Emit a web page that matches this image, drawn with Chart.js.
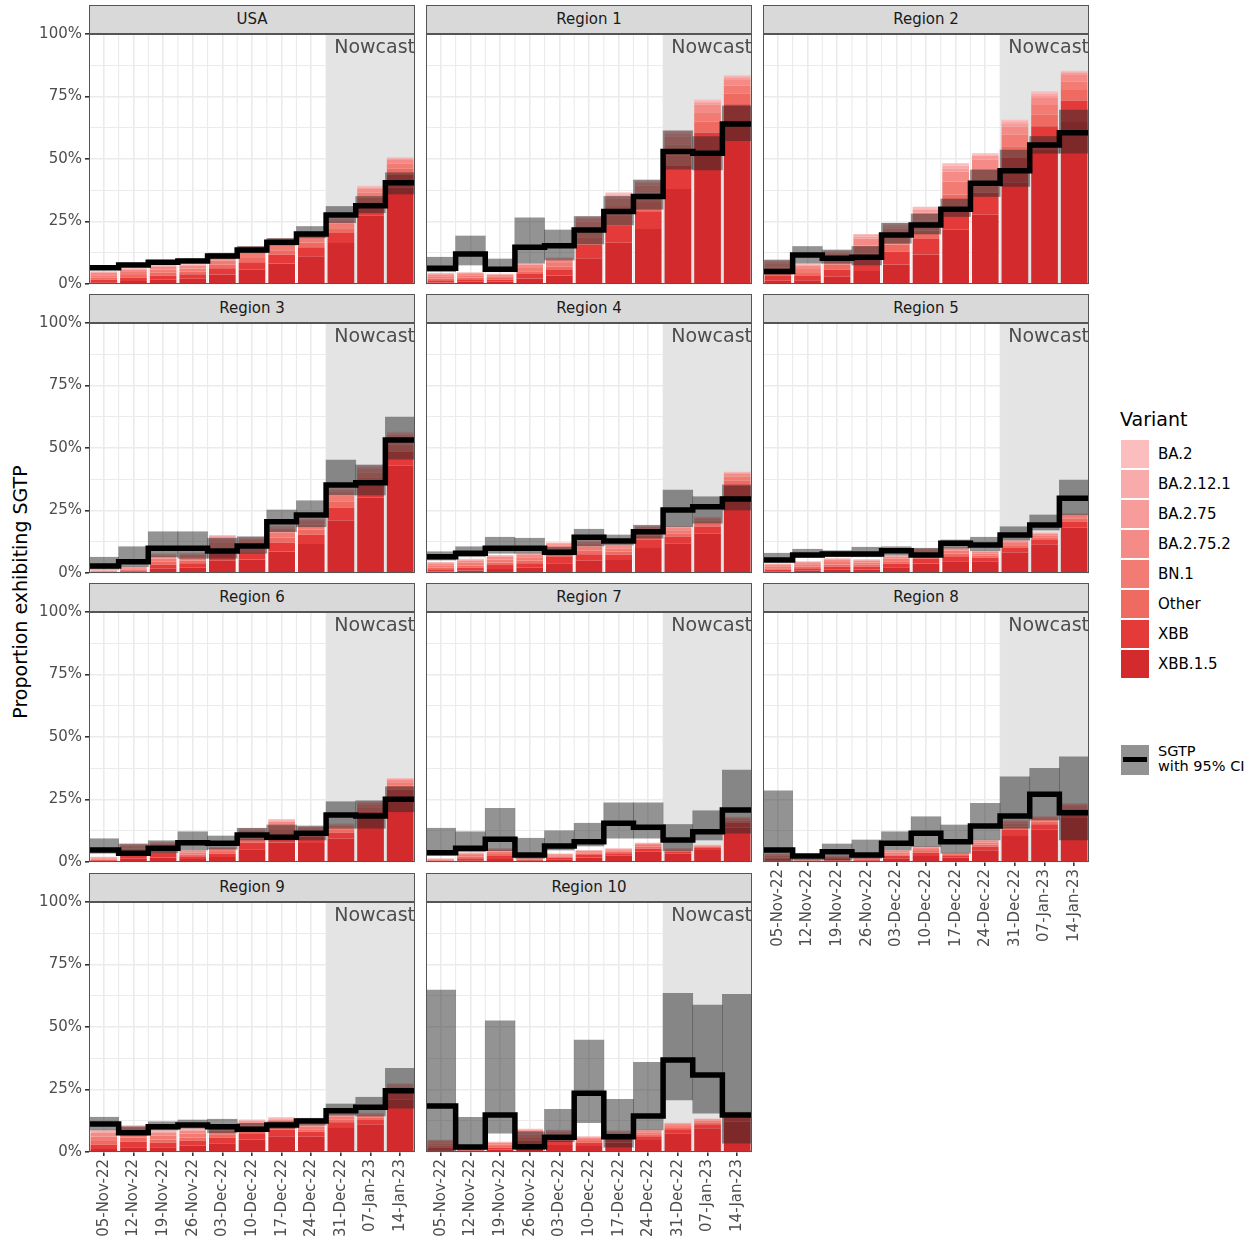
<!DOCTYPE html>
<html lang="en">
<head>
<meta charset="UTF-8" />
<title>Proportion exhibiting SGTP by region</title>
<script src="https://cdn.jsdelivr.net/npm/chart.js"></script>
<style>
  body { margin:0; background:#fff; font-family:"DejaVu Sans", sans-serif; }
  #page { position:relative; width:1257px; height:1243px; overflow:hidden; background:#fff; }
  #page canvas { position:absolute; }
  .strip { position:absolute; height:29px; background:#d9d9d9; border:1px solid #555; box-sizing:border-box;
           text-align:center; font-size:15px; line-height:27px; color:#1a1a1a; }
  .nowcast { position:absolute; font-size:19px; line-height:22px; color:#4d4d4d; text-align:right; white-space:nowrap; }
  .ytitle { position:absolute; width:400px; left:-180px; top:581px; text-align:center; font-size:19px; line-height:22px;
            color:#000; transform:rotate(-90deg); }
  .lg-title { position:absolute; left:1120px; top:408px; font-size:19px; line-height:22px; color:#000; }
  .lg-key { position:absolute; left:1121px; width:28px; height:28px; }
  .lg-text { position:absolute; left:1158px; font-size:15px; line-height:18px; color:#000; white-space:nowrap; }
</style>
</head>
<body>
<div id="page">
  <div class="ytitle">Proportion exhibiting SGTP</div>
</div>
<script>
// --------- data (percent) ---------
const weeks = ['05-Nov-22','12-Nov-22','19-Nov-22','26-Nov-22','03-Dec-22','10-Dec-22','17-Dec-22','24-Dec-22','31-Dec-22','07-Jan-23','14-Jan-23'];
const regions = ['USA','Region 1','Region 2','Region 3','Region 4','Region 5','Region 6','Region 7','Region 8','Region 9','Region 10'];
const variants = ['BA.2','BA.2.12.1','BA.2.75','BA.2.75.2','BN.1','Other','XBB','XBB.1.5'];
const variantColors = ['#fbbdbd','#f9abab','#f79c9a','#f58b86','#f27c74','#ef6b62','#e43a3a','#d32b2d'];
const yTickLabels = ['0%','25%','50%','75%','100%'];
const nowcastFrom = 8; // 31-Dec-22 onwards

// one row per region (USA, Region 1 .. Region 10), one value per week
const ba2 = [
  [0.2,0.2,0.2,0.2,0.2,0.3,0.4,0.2,0.3,0.4,0.3],
  [0.1,0.1,0.1,0.2,0.2,0.5,0.7,0.4,0.6,0.7,0.4],
  [0.3,0.2,0.3,0.4,0.5,0.6,1.0,0.5,0.7,0.8,0.4],
  [0.0,0.1,0.2,0.2,0.3,0.3,0.4,0.2,0.3,0.4,0.3],
  [0.1,0.2,0.1,0.2,0.2,0.3,0.2,0.2,0.2,0.2,0.2],
  [0.1,0.1,0.1,0.1,0.1,0.2,0.2,0.1,0.1,0.2,0.1],
  [0.1,0.2,0.2,0.1,0.1,0.3,0.3,0.1,0.2,0.2,0.2],
  [0.0,0.1,0.1,0.0,0.1,0.1,0.1,0.1,0.1,0.1,0.1],
  [0.1,0.0,0.1,0.0,0.1,0.1,0.1,0.1,0.2,0.2,0.1],
  [0.3,0.3,0.2,0.2,0.2,0.3,0.3,0.1,0.2,0.2,0.1],
  [0.1,0.0,0.1,0.2,0.2,0.1,0.2,0.1,0.1,0.1,0.1]
];
const ba2121 = [
  [0.2,0.2,0.2,0.2,0.4,0.3,0.4,0.2,0.3,0.4,0.3],
  [0.1,0.1,0.1,0.2,0.3,0.5,0.7,0.4,0.6,0.7,0.4],
  [0.3,0.2,0.4,0.6,0.7,0.6,1.0,0.5,0.7,0.8,0.4],
  [0.0,0.1,0.2,0.2,0.5,0.3,0.4,0.2,0.3,0.4,0.3],
  [0.1,0.2,0.2,0.2,0.4,0.3,0.2,0.2,0.2,0.2,0.2],
  [0.1,0.1,0.2,0.2,0.2,0.2,0.2,0.1,0.1,0.2,0.1],
  [0.1,0.2,0.2,0.1,0.2,0.3,0.3,0.1,0.2,0.2,0.2],
  [0.0,0.1,0.2,0.1,0.1,0.1,0.1,0.1,0.1,0.1,0.1],
  [0.1,0.0,0.1,0.1,0.1,0.1,0.1,0.1,0.2,0.2,0.1],
  [0.3,0.3,0.3,0.3,0.3,0.3,0.3,0.1,0.2,0.2,0.1],
  [0.1,0.0,0.1,0.3,0.3,0.1,0.2,0.1,0.1,0.1,0.1]
];
const ba275 = [
  [0.3,0.3,0.4,0.3,0.5,0.6,0.5,0.6,0.5,0.4,0.5],
  [0.3,0.2,0.2,0.3,0.4,1.1,1.1,1.2,1.2,0.7,0.8],
  [0.6,0.4,0.7,0.8,1.0,1.2,1.4,1.6,1.3,0.8,0.9],
  [0.1,0.1,0.4,0.3,0.6,0.6,0.6,0.7,0.7,0.4,0.6],
  [0.3,0.3,0.4,0.3,0.5,0.5,0.3,0.6,0.4,0.2,0.4],
  [0.2,0.2,0.3,0.2,0.3,0.4,0.3,0.3,0.3,0.2,0.2],
  [0.1,0.4,0.4,0.2,0.2,0.5,0.5,0.4,0.3,0.2,0.3],
  [0.1,0.2,0.3,0.1,0.1,0.2,0.2,0.2,0.1,0.1,0.2],
  [0.2,0.1,0.1,0.1,0.2,0.3,0.1,0.3,0.3,0.2,0.2],
  [0.5,0.5,0.4,0.4,0.4,0.5,0.4,0.3,0.3,0.2,0.3],
  [0.3,0.1,0.2,0.4,0.4,0.3,0.3,0.3,0.2,0.1,0.2]
];
const ba2752 = [
  [0.9,1.0,1.2,1.1,1.4,1.5,1.5,1.5,1.3,1.6,1.5],
  [0.8,0.8,0.6,1.2,1.3,2.7,2.9,2.9,3.1,3.0,2.5],
  [1.7,1.3,2.0,2.8,2.9,3.1,3.9,3.7,3.3,3.1,2.6],
  [0.2,0.4,1.2,1.1,1.8,1.4,1.5,1.5,1.7,1.7,1.7],
  [0.8,0.9,1.1,1.1,1.5,1.3,0.9,1.3,0.9,0.9,1.2],
  [0.7,0.8,0.9,0.8,0.9,1.0,0.8,0.6,0.7,0.6,0.7],
  [0.4,1.2,1.2,0.7,0.7,1.4,1.4,1.0,0.8,1.0,1.0],
  [0.3,0.6,0.8,0.3,0.4,0.5,0.4,0.5,0.3,0.3,0.5],
  [0.6,0.2,0.4,0.3,0.6,0.6,0.3,0.6,0.8,0.7,0.7],
  [1.6,1.7,1.3,1.3,1.3,1.3,1.1,0.8,0.8,0.6,0.8],
  [0.9,0.2,0.6,1.3,1.1,0.6,0.7,0.6,0.6,0.5,0.5]
];
const bn1 = [
  [1.0,1.2,1.3,1.3,1.7,2.0,2.0,1.9,1.9,2.0,2.0],
  [0.9,0.9,0.7,1.3,1.5,3.5,4.0,3.7,4.3,3.7,3.3],
  [1.9,1.6,2.3,3.2,3.4,4.0,5.3,4.7,4.6,3.9,3.4],
  [0.2,0.5,1.3,1.3,2.1,1.9,2.1,2.0,2.4,2.2,2.3],
  [0.9,1.1,1.2,1.3,1.7,1.7,1.3,1.7,1.3,1.1,1.6],
  [0.8,0.9,1.0,0.9,1.0,1.3,1.2,0.8,0.9,0.8,1.0],
  [0.4,1.4,1.4,0.8,0.9,1.8,1.9,1.3,1.1,1.2,1.3],
  [0.3,0.7,0.9,0.3,0.5,0.6,0.6,0.7,0.4,0.3,0.7],
  [0.7,0.2,0.5,0.3,0.7,0.8,0.4,0.8,1.2,0.9,0.9],
  [1.8,2.1,1.5,1.5,1.5,1.7,1.5,1.0,1.1,0.8,1.1],
  [1.0,0.3,0.7,1.5,1.2,0.8,0.9,0.8,0.8,0.7,0.6]
];
const other = [
  [0.8,1.0,1.1,1.0,1.4,1.7,1.8,1.9,1.9,2.4,2.5],
  [0.7,0.7,0.6,1.1,1.3,3.0,3.7,3.7,4.3,4.4,4.2],
  [1.5,1.2,1.9,2.6,2.9,3.4,4.8,4.7,4.6,4.6,4.3],
  [0.2,0.4,1.1,1.1,1.8,1.6,1.9,2.0,2.4,2.6,2.8],
  [0.7,0.8,1.0,1.1,1.5,1.4,1.2,1.7,1.3,1.4,2.0],
  [0.6,0.7,0.8,0.7,0.9,1.1,1.1,0.8,0.9,1.0,1.2],
  [0.3,1.1,1.1,0.6,0.7,1.5,1.7,1.3,1.1,1.5,1.7],
  [0.2,0.6,0.8,0.2,0.4,0.5,0.6,0.7,0.4,0.4,0.9],
  [0.6,0.2,0.4,0.3,0.6,0.7,0.4,0.8,1.2,1.1,1.2],
  [1.4,1.6,1.2,1.2,1.3,1.4,1.4,1.0,1.1,0.9,1.4],
  [0.8,0.2,0.6,1.2,1.1,0.7,0.9,0.8,0.8,0.8,0.8]
];
const xbb = [
  [1.0,1.4,1.7,1.8,2.5,3.0,3.5,3.6,4.0,4.7,5.1],
  [0.9,1.0,0.9,1.8,2.2,5.4,7.0,7.1,9.2,8.9,8.4],
  [1.9,1.7,2.9,4.4,5.1,6.2,9.2,8.9,9.8,9.2,8.5],
  [0.2,0.5,1.7,1.8,3.2,2.9,3.6,3.7,5.1,5.2,5.6],
  [0.9,1.2,1.6,1.8,2.5,2.6,2.2,3.2,2.8,2.7,4.1],
  [0.8,1.0,1.3,1.2,1.5,2.0,2.0,1.5,2.0,1.9,2.4],
  [0.4,1.5,1.8,1.1,1.3,2.7,3.3,2.4,2.3,2.9,3.4],
  [0.3,0.8,1.2,0.4,0.7,1.0,1.0,1.3,0.8,0.8,1.8],
  [0.7,0.2,0.6,0.5,1.0,1.3,0.7,1.5,2.5,2.2,2.4],
  [1.8,2.3,1.9,2.1,2.3,2.6,2.6,2.0,2.3,1.9,2.8],
  [1.0,0.3,0.9,2.0,1.8,1.3,1.6,1.5,1.8,1.6,1.6]
];
const xbb15 = [
  [0.7,1.2,1.7,2.1,3.8,5.7,8.2,11.1,16.4,27.4,38.5],
  [0.6,0.9,0.9,2.2,3.4,10.3,16.5,22.0,38.0,51.7,63.5],
  [1.3,1.5,2.9,5.2,7.8,11.8,21.7,27.7,40.7,53.9,64.8],
  [0.2,0.5,1.7,2.1,4.9,5.4,8.6,11.6,21.0,30.2,42.9],
  [0.6,1.0,1.6,2.1,3.9,4.9,5.2,10.0,11.7,15.8,30.8],
  [0.5,0.9,1.3,1.4,2.3,3.8,4.7,4.7,8.2,11.3,18.2],
  [0.3,1.3,1.8,1.2,2.0,5.1,7.8,7.6,9.4,17.2,25.5],
  [0.2,0.7,1.2,0.5,1.1,1.8,2.5,4.1,3.4,4.8,13.8],
  [0.5,0.2,0.6,0.5,1.5,2.4,1.7,4.7,10.4,12.9,17.9],
  [1.2,1.9,1.9,2.5,3.5,4.9,6.3,6.1,9.6,10.9,20.9],
  [0.7,0.3,0.9,2.4,2.8,2.4,3.8,4.8,7.3,9.5,12.2]
];
const variantData = [ba2, ba2121, ba275, ba2752, bn1, other, xbb, xbb15];

const sgtp = [
  [6.5,7.6,8.7,9.2,11.2,13.6,16.7,20.0,27.6,31.3,40.5],
  [6.3,12.0,5.9,14.7,15.3,21.6,29.0,35.0,53.0,52.3,64.0],
  [5.0,11.6,10.3,10.7,19.6,23.6,29.9,40.3,45.3,55.6,60.5],
  [2.8,4.5,9.9,9.9,8.8,10.8,20.5,23.2,35.2,36.1,53.2],
  [6.5,7.9,9.9,9.9,8.3,14.3,12.8,16.5,25.2,26.5,29.6],
  [5.2,7.2,7.6,7.6,8.9,7.2,11.9,11.2,15.2,19.2,29.9],
  [4.8,3.5,5.5,7.7,7.5,10.8,9.9,11.5,18.8,18.4,25.1],
  [3.7,5.5,9.1,2.8,6.4,8.1,15.5,13.9,8.8,12.1,20.8],
  [4.8,2.4,4.1,2.8,7.5,11.5,8.1,14.4,18.4,27.1,19.7],
  [11.2,7.7,10.1,10.8,10.1,9.1,10.8,12.4,16.5,17.9,24.5],
  [18.4,2.0,14.8,2.1,5.9,23.5,6.1,14.4,36.8,30.8,14.8]
];
const ciLow = [
  [5.8,6.9,8.0,8.5,10.3,12.5,15.5,18.5,24.5,28.5,36.0],
  [4.9,7.6,4.9,8.3,9.6,16.0,23.6,29.9,45.9,45.6,57.3],
  [4.0,8.3,8.3,7.6,16.3,20.0,27.0,35.0,39.0,52.3,52.3],
  [1.5,2.5,6.5,5.9,5.9,7.9,16.5,18.5,31.2,31.2,45.5],
  [5.2,6.5,7.9,7.9,7.2,10.8,11.2,13.9,18.5,19.9,25.2],
  [4.5,6.3,6.5,6.5,7.2,6.5,9.9,8.9,13.2,17.2,23.2],
  [3.5,2.8,3.7,4.8,5.1,8.8,8.8,8.8,13.5,13.5,20.1],
  [2.8,4.1,4.5,1.5,4.8,6.4,9.5,9.5,4.5,8.8,11.5],
  [0.1,0.8,0.8,1.5,4.8,6.1,3.5,8.8,13.5,16.8,8.8],
  [8.8,6.8,8.8,9.5,7.7,8.1,9.5,10.8,14.8,14.4,17.5],
  [0.0,0.8,7.5,0.8,4.1,11.7,1.9,8.8,20.8,15.5,3.5]
];
const ciHigh = [
  [7.2,8.4,9.5,10.0,12.3,15.0,18.2,23.0,31.0,35.0,44.5],
  [10.7,19.2,10.0,26.5,21.6,27.0,35.0,41.6,61.3,59.0,71.2],
  [9.6,15.0,13.6,15.0,24.3,28.0,34.0,45.6,53.6,59.0,69.6],
  [6.3,10.5,16.5,16.5,13.9,14.5,25.2,28.9,45.2,43.2,62.4],
  [8.5,10.5,14.3,13.9,10.3,17.5,15.2,19.1,33.2,30.5,35.2],
  [7.9,9.5,8.9,10.3,10.5,9.9,13.2,14.3,18.5,23.2,37.2],
  [9.3,7.2,8.5,12.1,10.4,13.5,14.8,14.4,24.1,24.5,30.1],
  [13.5,12.1,21.5,9.5,12.5,15.5,23.7,23.7,15.0,20.5,36.8],
  [28.5,2.8,7.2,8.8,12.1,18.1,14.8,23.5,34.1,37.5,42.1],
  [13.9,10.1,12.1,12.8,13.1,11.5,12.1,13.5,19.2,21.9,33.5],
  [64.8,13.9,52.5,8.1,17.1,44.8,21.1,35.9,63.5,58.8,63.1]
];

// --------- layout ---------
const colLeft = [89, 426, 763];
const plotTop = [34, 323, 612, 902];
const plotW = 326, plotH = 250;
const ciColor = 'rgba(40,40,40,0.5)';
const FONT = 'DejaVu Sans';
const page = document.getElementById('page');

// minor grid + nowcast shading + panel border
const panelDecor = {
  id: 'panelDecor',
  beforeDatasetsDraw(chart) {
    const {ctx, chartArea: a} = chart;
    const x = chart.scales.x;
    ctx.save();
    ctx.strokeStyle = '#ebebeb';
    ctx.lineWidth = 1.1;
    for (let i = 0; i < weeks.length - 1; i++) {
      const px = (x.getPixelForValue(i) + x.getPixelForValue(i + 1)) / 2;
      ctx.beginPath(); ctx.moveTo(px, a.top); ctx.lineTo(px, a.bottom); ctx.stroke();
    }
    const nx = (x.getPixelForValue(nowcastFrom - 1) + x.getPixelForValue(nowcastFrom)) / 2;
    ctx.fillStyle = '#e4e4e4';
    ctx.fillRect(nx, a.top, a.right - nx, a.bottom - a.top);
    ctx.restore();
  },
  afterDraw(chart) {
    const {ctx, chartArea: a} = chart;
    ctx.save();
    ctx.strokeStyle = '#555';
    ctx.lineWidth = 1;
    ctx.strokeRect(Math.round(a.left) + 0.5, Math.round(a.top) + 0.5, Math.round(a.right - a.left) - 1, Math.round(a.bottom - a.top) - 1);
    ctx.restore();
  }
};

regions.forEach((name, p) => {
  const row = Math.floor(p / 3), col = p % 3;
  const showX = p >= 8, showY = col === 0;
  const yW = showY ? 89 : 0, xH = showX ? 95 : 0;
  const padT = 12, padR = 8, padB = showX ? 0 : 12;

  const cv = document.createElement('canvas');
  cv.width = yW + plotW + padR;
  cv.height = padT + plotH + (showX ? xH : padB);
  cv.style.left = (colLeft[col] - yW) + 'px';
  cv.style.top = (plotTop[row] - padT) + 'px';
  page.appendChild(cv);

  const strip = document.createElement('div');
  strip.className = 'strip';
  strip.style.left = colLeft[col] + 'px';
  strip.style.top = (plotTop[row] - 29) + 'px';
  strip.style.width = plotW + 'px';
  strip.textContent = name;
  page.appendChild(strip);

  const nc = document.createElement('div');
  nc.className = 'nowcast';
  nc.style.left = colLeft[col] + 'px';
  nc.style.width = plotW + 'px';
  nc.style.top = (plotTop[row] + 1) + 'px';
  nc.textContent = 'Nowcast';
  page.appendChild(nc);

  // step vertices: each week's value spans its whole category band
  const stepPts = sgtp[p].map((v, i) => ({x: i - 0.5, y: v}));
  stepPts.push({x: weeks.length - 0.5, y: sgtp[p][weeks.length - 1]});

  const datasets = [
    {type: 'line', label: 'SGTP', data: stepPts, xAxisID: 'xs', yAxisID: 'yci', borderColor: '#000',
     borderWidth: 5.5, pointRadius: 0, stepped: 'before', fill: false, order: 0,
     borderJoinStyle: 'miter', borderCapStyle: 'butt'},
    {type: 'bar', label: '95% CI', data: weeks.map((_, i) => [ciLow[p][i], ciHigh[p][i]]), yAxisID: 'yci',
     backgroundColor: ciColor, barPercentage: 1, categoryPercentage: 1, grouped: false, order: 1}
  ];
  // XBB.1.5 at the bottom of the stack, BA.2 on top
  for (let k = variants.length - 1; k >= 0; k--) {
    datasets.push({type: 'bar', label: variants[k], data: variantData[k][p], yAxisID: 'y',
      backgroundColor: variantColors[k], barPercentage: 0.9, categoryPercentage: 1, grouped: false, order: 2});
  }

  new Chart(cv.getContext('2d'), {
    type: 'bar',
    data: {labels: weeks, datasets},
    plugins: [panelDecor],
    options: {
      responsive: false, animation: false,
      layout: {padding: {top: padT, right: padR, bottom: padB, left: 0}},
      plugins: {legend: {display: false}, tooltip: {enabled: false}},
      scales: {
        x: {
          type: 'category', offset: true,
          afterFit: s => { s.height = xH; },
          border: {display: false},
          grid: {offset: false, color: '#ebebeb', lineWidth: 1.6, drawTicks: showX, tickLength: 4, tickColor: '#333'},
          ticks: {display: showX, autoSkip: false, minRotation: 90, maxRotation: 90, padding: 3,
                  color: '#4d4d4d', font: {family: FONT, size: 15}}
        },
        xs: {type: 'linear', offset: false, min: -0.5, max: weeks.length - 0.5, display: false},
        y: {
          min: 0, max: 100, stacked: true,
          afterFit: s => { s.width = yW; },
          border: {display: false},
          grid: {
            color: '#ebebeb',
            lineWidth: c => (c.index % 2 === 0 ? 1.6 : 1.1),
            drawTicks: showY, tickLength: 4,
            tickColor: c => (c.index % 2 === 0 ? '#333' : 'rgba(0,0,0,0)')
          },
          ticks: {display: showY, stepSize: 12.5, padding: 3, color: '#4d4d4d', font: {family: FONT, size: 15},
                  callback: (v, i) => (i % 2 === 0 ? yTickLabels[i / 2] : '')}
        },
        yci: {min: 0, max: 100, stacked: false, display: false}
      }
    }
  });
});

// --------- legend ---------
const lgTitle = document.createElement('div');
lgTitle.className = 'lg-title';
lgTitle.textContent = 'Variant';
page.appendChild(lgTitle);
variants.forEach((v, k) => {
  const key = document.createElement('div');
  key.className = 'lg-key';
  key.style.top = (440 + 30 * k) + 'px';
  key.style.background = variantColors[k];
  page.appendChild(key);
  const t = document.createElement('div');
  t.className = 'lg-text';
  t.style.top = (445 + 30 * k) + 'px';
  t.textContent = v;
  page.appendChild(t);
});
const sKey = document.createElement('div');
sKey.className = 'lg-key';
sKey.style.top = '745px';
sKey.style.height = '30px';
sKey.style.background = ciColor;
sKey.innerHTML = '<div style="position:absolute;left:2px;right:2px;top:12px;height:5px;background:#000"></div>';
page.appendChild(sKey);
const sText = document.createElement('div');
sText.className = 'lg-text';
sText.style.top = '744px';
sText.style.lineHeight = '15px';
sText.style.fontSize = '14.5px';
sText.innerHTML = 'SGTP<br>with 95% CI';
page.appendChild(sText);
</script>
</body>
</html>
